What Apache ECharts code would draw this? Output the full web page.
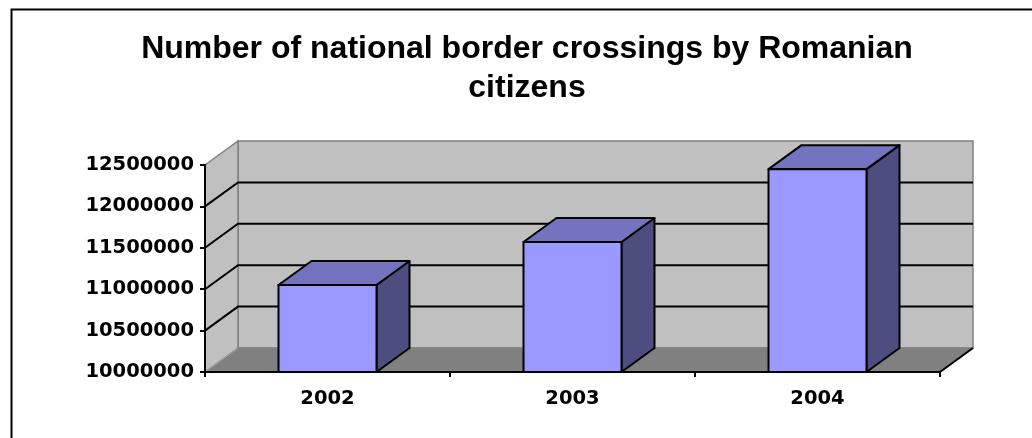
<!DOCTYPE html>
<html>
<head>
<meta charset="utf-8">
<script src="https://cdn.jsdelivr.net/npm/echarts@6/dist/echarts.min.js"></script>
<style>
html,body{margin:0;padding:0;background:#fff;}
#chart{width:1032px;height:438px;}
</style>
</head>
<body>
<div id="chart"></div>
<script>
const categories = ['2002', '2003', '2004'];
const crossings = [11050000, 11570000, 12450000];
const yTicks = [10000000, 10500000, 11000000, 11500000, 12000000, 12500000];
const titleText = 'Number of national border crossings by Romanian\ncitizens';

const DX = 33, DY = -24;
const yMin = yTicks[0], yMax = yTicks[yTicks.length - 1];
const yStep = yTicks[1] - yTicks[0];

const chart = echarts.init(document.getElementById('chart'), null, {renderer: 'canvas'});

function wallsRender(params, api) {
  const cs = params.coordSys;
  const L = cs.x, R = cs.x + cs.width, T = cs.y, B = cs.y + cs.height;
  const ch = [];
  ch.push({type: 'polygon', shape: {points: [[L + DX, T + DY], [R + DX, T + DY], [R + DX, B + DY], [L + DX, B + DY]]},
    style: {fill: '#C0C0C0', stroke: '#808080', lineWidth: 1.5}});
  ch.push({type: 'polygon', shape: {points: [[L, T], [L + DX, T + DY], [L + DX, B + DY], [L, B]]},
    style: {fill: '#C0C0C0', stroke: '#808080', lineWidth: 1.5}});
  ch.push({type: 'polygon', shape: {points: [[L, B], [R, B], [R + DX, B + DY], [L + DX, B + DY]]},
    style: {fill: '#808080', stroke: '#808080', lineWidth: 1}});
  ch.push({type: 'line', shape: {x1: L, y1: B, x2: L + DX, y2: B + DY}, style: {stroke: '#A8A8A8', lineWidth: 1}});
  ch.push({type: 'line', shape: {x1: R, y1: B, x2: R + DX, y2: B + DY}, style: {stroke: '#000', lineWidth: 2}});
  for (let k = 1; k < yTicks.length - 1; k++) {
    const y = api.coord([0, yTicks[k]])[1];
    ch.push({type: 'polyline', shape: {points: [[L, y], [L + DX, y + DY], [R + DX, y + DY]]},
      style: {stroke: '#000', lineWidth: 2, fill: null}});
  }
  return {type: 'group', children: ch};
}

function barRender(params, api) {
  const idx = api.value(0), val = api.value(1);
  const topPt = api.coord([idx, val]);
  const basePt = api.coord([idx, yMin]);
  const bw = api.size([1, 0])[0] * 0.4;
  const x0 = topPt[0] - bw / 2, x1 = topPt[0] + bw / 2;
  const y0 = topPt[1], y1 = basePt[1];
  const st = {stroke: '#000', lineWidth: 2, lineJoin: 'round'};
  return {type: 'group', children: [
    {type: 'polygon', shape: {points: [[x1, y0], [x1 + DX, y0 + DY], [x1 + DX, y1 + DY], [x1, y1]]},
      style: Object.assign({fill: '#4D4D80'}, st)},
    {type: 'polygon', shape: {points: [[x0, y0], [x0 + DX, y0 + DY], [x1 + DX, y0 + DY], [x1, y0]]},
      style: Object.assign({fill: '#7373BF'}, st)},
    {type: 'polygon', shape: {points: [[x0, y0], [x1, y0], [x1, y1], [x0, y1]]},
      style: Object.assign({fill: '#9999FF'}, st)}
  ]};
}

const labelFont = {color: '#000', fontFamily: 'DejaVu Sans', fontWeight: 'bold', fontSize: 19.5};

chart.setOption({
  animation: false,
  backgroundColor: '#fff',
  title: {
    text: titleText,
    left: 527, top: 30, textAlign: 'center', padding: 0,
    textStyle: {fontFamily: 'Liberation Sans', fontWeight: 'bold', fontSize: 32, lineHeight: 39, color: '#000'}
  },
  graphic: [{type: 'rect', left: 9, top: 7, shape: {width: 1100, height: 1000},
    style: {fill: null, stroke: '#000', lineWidth: 2}, silent: true, z: 10}],
  grid: {left: 205, right: 92, top: 165, bottom: 66},
  xAxis: {
    type: 'category', data: categories, boundaryGap: true, z: 5,
    axisLine: {show: true, lineStyle: {color: '#000', width: 2}},
    axisTick: {show: true, length: 5, lineStyle: {color: '#000', width: 2}},
    axisLabel: Object.assign({margin: 17}, labelFont),
    splitLine: {show: false}
  },
  yAxis: {
    type: 'value', min: yMin, max: yMax, interval: yStep, z: 5,
    axisLine: {show: true, lineStyle: {color: '#000', width: 2}},
    axisTick: {show: true, length: 5, lineStyle: {color: '#000', width: 2}},
    axisLabel: Object.assign({margin: 11, formatter: v => String(v)}, labelFont),
    splitLine: {show: false}
  },
  series: [
    {type: 'custom', name: 'walls', z: 1, clip: false, silent: true, renderItem: wallsRender,
      data: [[0, yMin]], encode: {x: 0, y: 1}},
    {type: 'custom', name: 'crossings', z: 3, clip: false, renderItem: barRender,
      data: crossings.map((v, i) => [i, v]), encode: {x: 0, y: 1}}
  ]
});
</script>
</body>
</html>
